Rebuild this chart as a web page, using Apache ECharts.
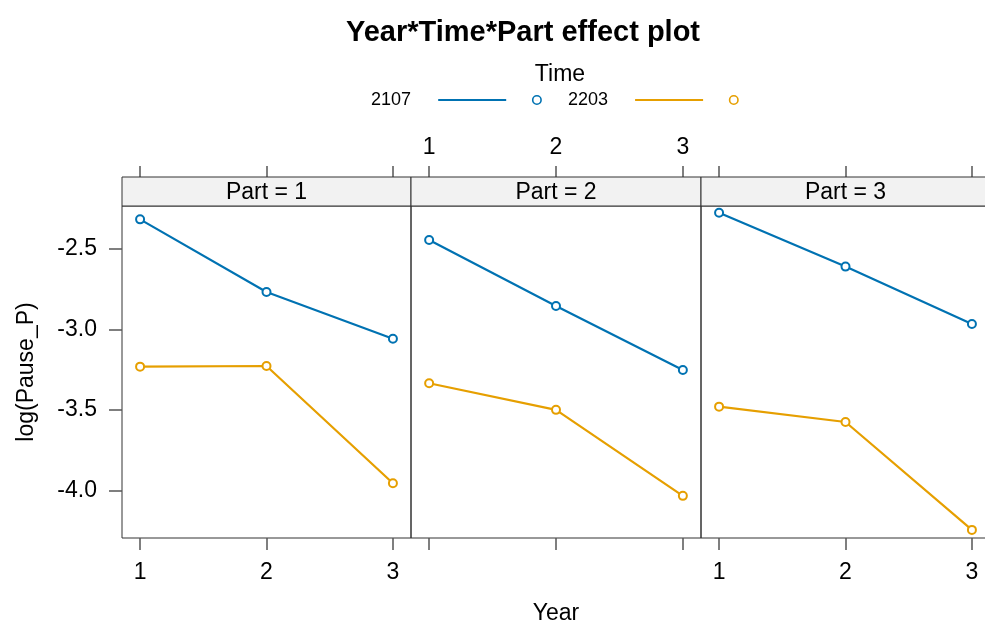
<!DOCTYPE html>
<html>
<head>
<meta charset="utf-8">
<script src="https://cdn.jsdelivr.net/npm/echarts@6/dist/echarts.min.js"></script>
<style>
html,body{margin:0;padding:0;background:#fff;}
#chart{width:985px;height:626px;}
</style>
</head>
<body>
<div id="chart"></div>
<script>
// ---- data ----
const years = [1, 2, 3];
const partLabels = ['Part = 1', 'Part = 2', 'Part = 3'];
const timeLevels = ['2107', '2203'];
const yTicks = [-4.0, -3.5, -3.0, -2.5];
const xTicks = [1, 2, 3];
const t2107_part1 = [-2.318, -2.768, -3.058];
const t2107_part2 = [-2.446, -2.855, -3.252];
const t2107_part3 = [-2.277, -2.611, -2.967];
const t2203_part1 = [-3.231, -3.227, -3.954];
const t2203_part2 = [-3.334, -3.499, -4.032];
const t2203_part3 = [-3.479, -3.574, -4.243];

const seriesByTime = {
  '2107': [t2107_part1, t2107_part2, t2107_part3],
  '2203': [t2203_part1, t2203_part2, t2203_part3]
};
const colors = { '2107': '#0072B2', '2203': '#E69F00' };

const FONT = 'Liberation Sans, Arial, sans-serif';
const panelLeft = [122, 411, 701];
const panelWidth = [289, 290, 289];
const panelTop = 206, panelHeight = 332;
const stripTop = 177, stripH = 29;
const yMin = -4.2932, yMax = -2.2353;
const xMin = 0.857, xMax = 3.143;

const grids = [], xAxes = [], yAxes = [], series = [], graphics = [];
for (let p = 0; p < 3; p++) {
  grids.push({ left: panelLeft[p], top: panelTop, width: panelWidth[p], height: panelHeight,
    containLabel: false, outerBoundsMode: 'none',
    show: true, borderColor: '#333', borderWidth: 1, backgroundColor: 'transparent' });
  // bottom axis
  xAxes.push({ type: 'value', gridIndex: p, position: 'bottom', min: xMin, max: xMax,
    axisLine: { show: false }, splitLine: { show: false },
    axisTick: { show: true, customValues: xTicks, length: 12, inside: false, lineStyle: { color: '#555', width: 1.5 } },
    axisLabel: { show: p !== 1, customValues: xTicks, margin: 23, fontSize: 23, color: '#000', fontFamily: FONT },
    name: p === 1 ? 'Year' : '', nameLocation: 'middle', nameGap: 64,
    nameTextStyle: { fontSize: 23, color: '#000', fontFamily: FONT } });
  yAxes.push({ type: 'value', gridIndex: p, min: yMin, max: yMax, show: p === 0,
    axisLine: { show: false }, splitLine: { show: false },
    axisTick: { show: true, customValues: yTicks, length: 13, inside: false, lineStyle: { color: '#555', width: 1.5 } },
    axisLabel: { customValues: yTicks, margin: 25, fontSize: 23, color: '#000', fontFamily: FONT,
      formatter: v => v.toFixed(1) },
    name: p === 0 ? 'log(Pause_P)' : '', nameLocation: 'middle', nameGap: 84, nameRotate: 90,
    nameTextStyle: { fontSize: 23, color: '#000', fontFamily: FONT } });
  graphics.push({ type: 'rect', z: 10, shape: { x: panelLeft[p], y: stripTop, width: panelWidth[p], height: stripH },
    style: { fill: '#F2F2F2', stroke: '#333', lineWidth: 1 } });
  graphics.push({ type: 'text', z: 11, x: panelLeft[p] + panelWidth[p] / 2, y: stripTop + stripH / 2 + 1,
    style: { text: partLabels[p], fontSize: 23, fontFamily: FONT, fill: '#000', align: 'center', verticalAlign: 'middle' } });
  timeLevels.forEach(t => {
    series.push({ type: 'line', name: t, xAxisIndex: p, yAxisIndex: p,
      data: years.map((yr, i) => [yr, seriesByTime[t][p][i]]),
      symbol: 'emptyCircle', symbolSize: 8, color: colors[t],
      lineStyle: { width: 2.2, color: colors[t] },
      itemStyle: { color: colors[t], borderWidth: 2.2 },
      emphasis: { disabled: true }, animation: false });
  });
}
// top axes
for (let p = 0; p < 3; p++) {
  xAxes.push({ type: 'value', gridIndex: p, position: 'top', offset: panelTop - stripTop, min: xMin, max: xMax,
    axisLine: { show: false }, splitLine: { show: false },
    axisTick: { show: true, customValues: xTicks, length: 11, inside: false, lineStyle: { color: '#555', width: 1.5 } },
    axisLabel: { show: p === 1, customValues: xTicks, margin: 18, fontSize: 23, color: '#000', fontFamily: FONT } });
}

const legendIcon = 'path://M0 4 L68 4 L68 6 L0 6 Z M103.7 5 A5 5 0 1 1 93.7 5 A5 5 0 1 1 103.7 5 Z M102.1 5 A3.4 3.4 0 1 0 95.3 5 A3.4 3.4 0 1 0 102.1 5 Z';

const option = {
  backgroundColor: '#fff',
  animation: false,
  title: [
    { text: 'Year*Time*Part effect plot', left: 518, top: 13, textAlign: 'center',
      textStyle: { fontSize: 29, fontWeight: 'bold', color: '#000', fontFamily: FONT } },
    { text: 'Time', left: 555, top: 58, textAlign: 'center',
      textStyle: { fontSize: 23, fontWeight: 'normal', color: '#000', fontFamily: FONT } }
  ],
  legend: {
    data: timeLevels, left: 371, top: 91, padding: 0, itemGap: 26, align: 'right',
    icon: legendIcon, itemWidth: 104, itemHeight: 10,
    itemStyle: { borderWidth: 0 },
    textStyle: { fontSize: 18, color: '#000', fontFamily: FONT, padding: [0, 22, 0, 0] },
    selectedMode: false
  },
  grid: grids,
  xAxis: xAxes,
  yAxis: yAxes,
  series: series,
  graphic: graphics
};

const chart = echarts.init(document.getElementById('chart'), null, { renderer: 'canvas' });
chart.setOption(option);
</script>
</body>
</html>
